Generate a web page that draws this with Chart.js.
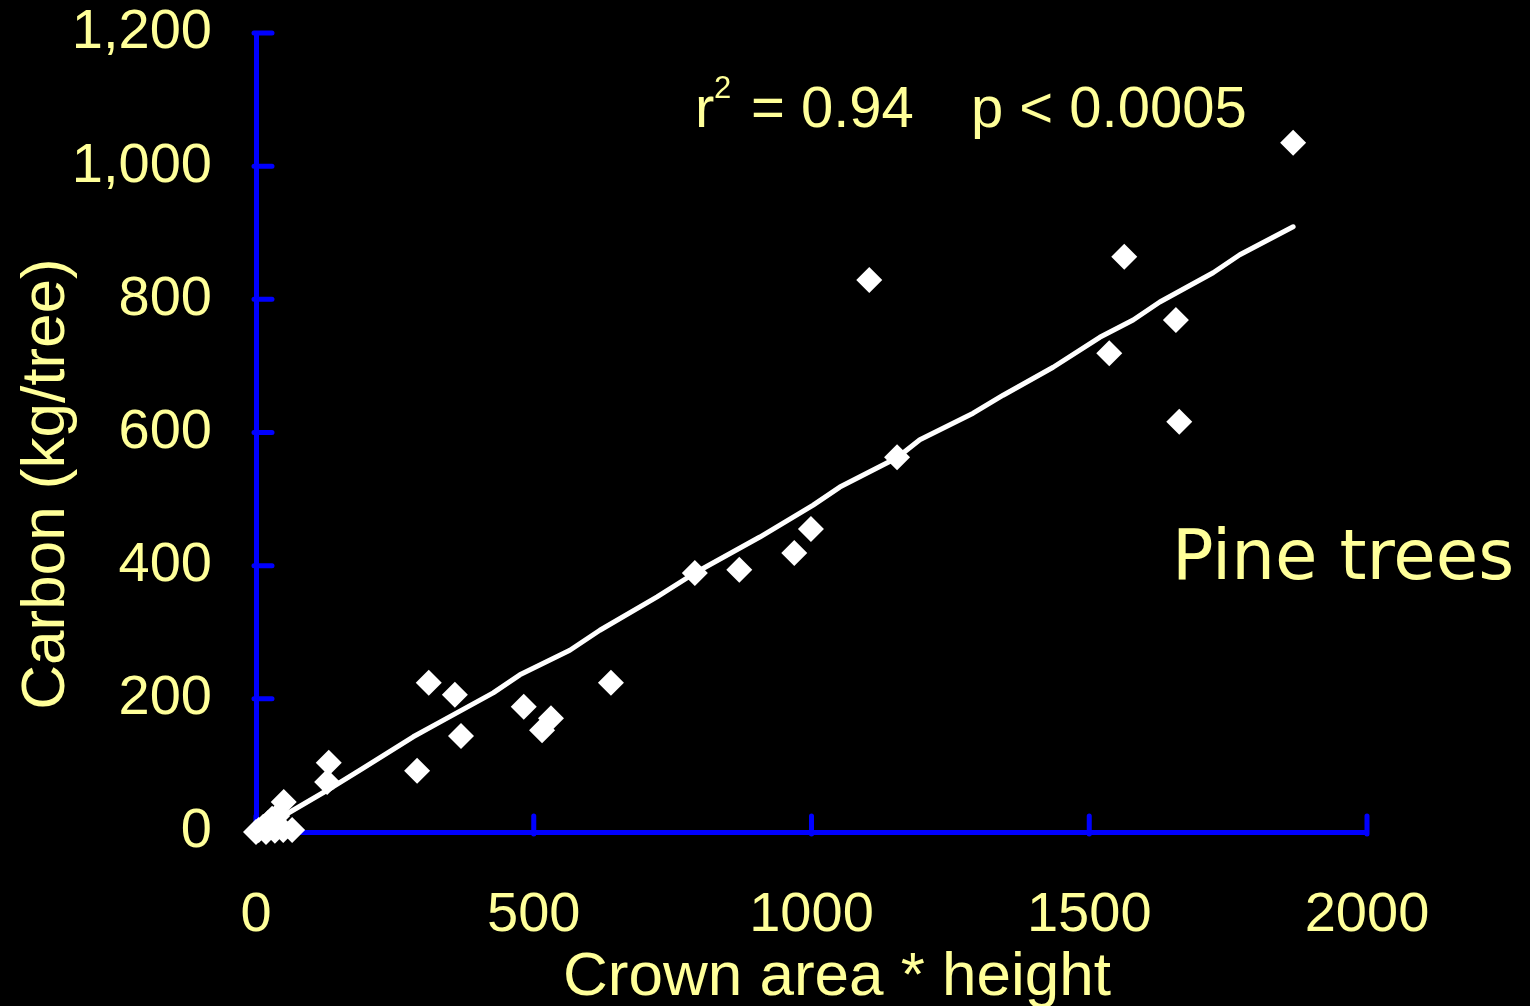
<!DOCTYPE html>
<html lang="en">
<head>
    <meta charset="UTF-8">
    <title>Pine trees - Carbon vs Crown area * height</title>
    <script src="https://cdn.jsdelivr.net/npm/chart.js"></script>
    <style>
        html, body {
            margin: 0;
            padding: 0;
            background: #000;
        }
        .chart-container {
            width: 1530px;
            height: 1006px;
        }
    </style>
</head>
<body>
    <div class="chart-container">
        <canvas id="carbonChart" width="1530" height="1006"></canvas>
    </div>

    <script>
        // measured trees: crown area * height vs carbon (kg/tree)
        const crownHeight = [0, 5, 13, 22, 29, 38, 49, 65, 34, 18,
            50, 128, 131, 290, 311, 358, 369, 482, 515, 531,
            639, 790, 870, 969, 999, 1104, 1154, 1536, 1563, 1656, 1662, 1867];
        const carbon = [0, 3, 8, 14, 20, 24, 3, 3, 2, 0,
            45, 75, 104, 92, 224, 206, 144, 188, 153, 171,
            224, 389, 394, 419, 455, 829, 563, 719, 864, 769, 616, 1035];

        // fitted line as drawn on the slide
        const fitX = [49, 139, 193, 283, 331, 427, 475, 565, 619, 722, 790, 907, 1003,
            1051, 1154, 1195, 1291, 1345, 1435, 1519, 1579, 1627, 1723, 1771, 1867];
        const fitY = [24, 68, 96, 143, 165, 209, 236, 273, 303, 353, 389, 443, 491,
            518, 562, 589, 629, 656, 698, 743, 769, 796, 840, 867, 909];

        const xTicks = [0, 500, 1000, 1500, 2000];
        const yTicks = [0, 200, 400, 600, 800, 1000, 1200];

        const textColor = '#FFFF99';
        const axisColor = '#0000FF';
        const sansFont = "'Liberation Sans', Arial, sans-serif";

        const points = crownHeight.map((x, i) => ({ x: x, y: carbon[i] }));
        const fitLine = fitX.map((x, i) => ({ x: x, y: fitY[i] }));

        // short tick marks pointing into the plot, like the original slide
        const inwardTicks = {
            id: 'inwardTicks',
            beforeDatasetsDraw(chart) {
                const ctx = chart.ctx;
                const xs = chart.scales.x;
                const ys = chart.scales.y;
                const area = chart.chartArea;
                ctx.save();
                ctx.strokeStyle = axisColor;
                ctx.lineWidth = 5;
                ctx.lineCap = 'round';
                ctx.beginPath();
                yTicks.forEach(v => {
                    const py = ys.getPixelForValue(v);
                    ctx.moveTo(area.left - 2, py);
                    ctx.lineTo(area.left + 16, py);
                });
                xTicks.forEach(v => {
                    const px = xs.getPixelForValue(v);
                    ctx.moveTo(px, area.bottom + 2);
                    ctx.lineTo(px, area.bottom - 16);
                });
                ctx.stroke();
                ctx.restore();
            }
        };

        // axis titles and the slide annotations
        const slideText = {
            id: 'slideText',
            afterDraw(chart) {
                const ctx = chart.ctx;
                ctx.save();
                ctx.fillStyle = textColor;
                ctx.textBaseline = 'alphabetic';

                // x title
                ctx.font = '62px ' + sansFont;
                ctx.textAlign = 'center';
                ctx.fillText('Crown area * height', 837, 995);

                // y title (rotated)
                ctx.save();
                ctx.translate(64, 484);
                ctx.rotate(-Math.PI / 2);
                ctx.fillText('Carbon (kg/tree)', 0, 0);
                ctx.restore();

                // r² and p value
                ctx.textAlign = 'left';
                ctx.font = '58px ' + sansFont;
                ctx.fillText('r', 695, 127);
                ctx.fillText('= 0.94', 751, 127);
                ctx.fillText('p < 0.0005', 971, 127);
                ctx.font = '31px ' + sansFont;
                ctx.fillText('2', 714, 98);

                ctx.font = "69px 'DejaVu Sans', Verdana, sans-serif";
                ctx.fillText('Pine trees', 1172, 579);
                ctx.restore();
            }
        };

        const ctx = document.getElementById('carbonChart').getContext('2d');
        const carbonChart = new Chart(ctx, {
            type: 'scatter',
            data: {
                datasets: [{
                    label: 'Pine trees',
                    data: points,
                    pointStyle: 'rectRot',
                    pointRadius: 13,
                    pointHoverRadius: 13,
                    backgroundColor: '#FFFFFF',
                    borderColor: '#FFFFFF',
                    borderWidth: 0,
                    clip: false,
                    order: 1
                }, {
                    type: 'line',
                    label: 'Fit',
                    data: fitLine,
                    borderColor: '#FFFFFF',
                    borderWidth: 5,
                    borderCapStyle: 'round',
                    borderJoinStyle: 'round',
                    pointRadius: 0,
                    fill: false,
                    tension: 0,
                    clip: false,
                    order: 2
                }]
            },
            options: {
                responsive: false,
                devicePixelRatio: 1,
                animation: false,
                layout: {
                    padding: { top: 33, right: 163, bottom: 0, left: 0 }
                },
                plugins: {
                    legend: { display: false },
                    tooltip: { enabled: false }
                },
                scales: {
                    x: {
                        type: 'linear',
                        min: 0,
                        max: 2000,
                        afterFit: scale => {
                            scale.height = 174;
                            scale.paddingLeft = 0;
                            scale.paddingRight = 0;
                        },
                        afterBuildTicks: scale => {
                            scale.ticks = xTicks.map(v => ({ value: v }));
                        },
                        grid: { display: false, drawTicks: false },
                        border: { display: true, color: axisColor, width: 5 },
                        ticks: {
                            color: textColor,
                            padding: 50,
                            maxRotation: 0,
                            autoSkip: false,
                            font: { size: 56, family: sansFont },
                            callback: v => String(v)
                        }
                    },
                    y: {
                        type: 'linear',
                        min: 0,
                        max: 1200,
                        afterFit: scale => {
                            scale.width = 256;
                            scale.paddingTop = 0;
                            scale.paddingBottom = 0;
                        },
                        afterBuildTicks: scale => {
                            scale.ticks = yTicks.map(v => ({ value: v }));
                        },
                        grid: { display: false, drawTicks: false },
                        border: { display: true, color: axisColor, width: 5 },
                        ticks: {
                            color: textColor,
                            padding: 44,
                            autoSkip: false,
                            font: { size: 56, family: sansFont, lineHeight: 1 },
                            callback: v => v.toLocaleString('en-US')
                        }
                    }
                }
            },
            plugins: [inwardTicks, slideText]
        });
    </script>
</body>
</html>
